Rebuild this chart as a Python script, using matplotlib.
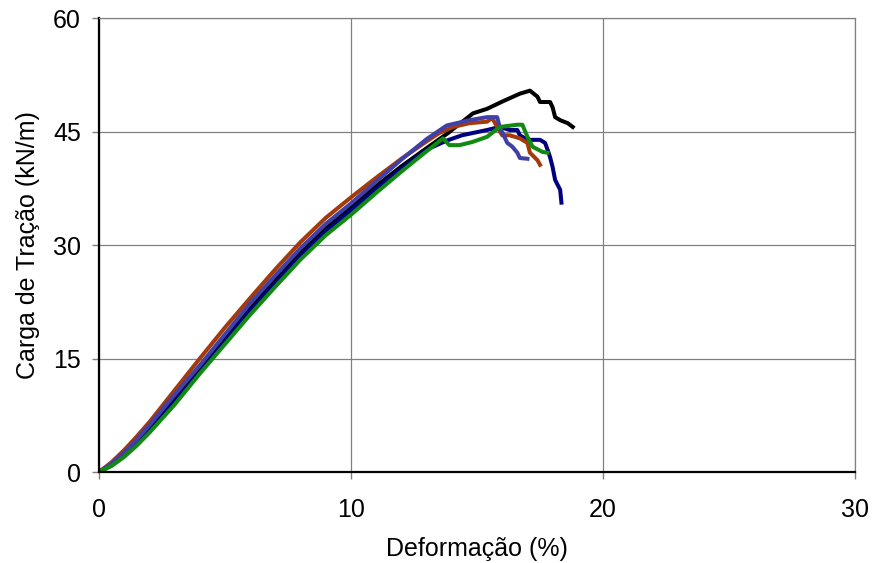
import numpy as np
import matplotlib.pyplot as plt

plt.rcParams['font.family'] = ['Liberation Sans', 'DejaVu Sans']

# curves (deformation %, load kN/m)
x_black = [0, 0.5, 1, 1.5, 2, 3, 4, 5, 6, 7, 8, 9, 10, 11, 12, 13, 13.85, 14.84, 15.4,
           16.03, 16.7, 17.1, 17.4, 17.5, 17.9, 18.0, 18.1, 18.3, 18.6, 18.8]
y_black = [0, 1.0, 2.4, 4.0, 5.8, 9.6, 13.6, 17.7, 21.6, 25.4, 29.0, 32.2, 35.0, 37.8, 40.4,
           42.8, 44.8, 47.4, 48.0, 49.0, 50.0, 50.4, 49.6, 48.9, 48.9, 48.2, 46.9, 46.5, 46.1, 45.6]

x_navy = [0, 0.5, 1, 1.5, 2, 3, 4, 5, 6, 7, 8, 9, 10, 11, 12, 13, 13.8, 14.4, 15.4, 15.9,
          16.3, 16.6, 16.7, 17.0, 17.5, 17.7, 17.8, 17.9, 18.0, 18.1, 18.3, 18.35]
y_navy = [0, 0.9, 2.2, 3.8, 5.6, 9.3, 13.2, 17.3, 21.3, 25.0, 28.6, 31.8, 34.6, 37.4, 40.1,
          42.6, 43.8, 44.5, 45.2, 45.6, 45.2, 45.2, 44.5, 43.9, 43.9, 43.5, 42.6, 41.6, 40.3,
          38.6, 37.3, 35.6]

x_brown = [0, 0.5, 1, 1.5, 2, 3, 4, 5, 6, 7, 8, 9, 10, 11, 12, 13, 13.5, 14.05, 14.7,
           15.4, 15.6, 15.8, 16.0, 16.3, 16.7, 17.0, 17.1, 17.4, 17.5]
y_brown = [0, 1.3, 2.9, 4.7, 6.6, 10.8, 15.0, 19.1, 23.0, 26.8, 30.4, 33.6, 36.3, 38.9, 41.4,
           43.7, 44.8, 45.6, 46.1, 46.3, 46.8, 45.6, 44.5, 44.5, 44.1, 43.5, 42.2, 41.2, 40.6]

x_blue = [0, 0.5, 1, 1.5, 2, 3, 4, 5, 6, 7, 8, 9, 10, 11, 12, 13, 13.8, 14.7, 15.4, 15.8,
          15.9, 16.2, 16.4, 16.6, 16.7, 17.0]
y_blue = [0, 1.1, 2.6, 4.3, 6.2, 10.2, 14.1, 18.2, 22.3, 26.0, 29.6, 32.8, 35.5, 38.4, 41.3,
          44.0, 45.8, 46.5, 46.9, 46.9, 45.6, 43.5, 43.0, 42.2, 41.5, 41.4]

x_green = [0, 0.5, 1, 1.5, 2, 3, 4, 5, 6, 7, 8, 9, 10, 11, 12, 12.7, 13.65, 13.9, 14.3,
           14.8, 15.4, 15.9, 16.6, 16.8, 17.0, 17.2, 17.6, 17.8]
y_green = [0, 0.8, 2.0, 3.5, 5.2, 8.9, 13.0, 16.9, 20.8, 24.5, 28.1, 31.3, 34.0, 36.9, 39.7,
           41.6, 44.1, 43.2, 43.2, 43.6, 44.3, 45.6, 45.9, 45.9, 44.3, 43.0, 42.3, 42.2]

x_ticks = [0, 10, 20, 30]
y_ticks = [0, 15, 30, 45, 60]

fig = plt.figure(figsize=(8.73, 5.63), dpi=100)
ax = fig.add_axes([0.1134, 0.1616, 0.8660, 0.8064])

lw = 2.9
ax.plot(x_black, y_black, color='black', lw=lw)
ax.plot(x_navy, y_navy, color='#000080', lw=lw)
ax.plot(x_brown, y_brown, color='#A33A0C', lw=lw)
ax.plot(x_blue, y_blue, color='#4040A8', lw=lw)
ax.plot(x_green, y_green, color='#108A10', lw=lw)

ax.set_xlim(0, 30)
ax.set_ylim(0, 60)
ax.set_xticks(x_ticks)
ax.set_yticks(y_ticks)
ax.grid(True, color='#808080', lw=0.9)
ax.set_axisbelow(True)
for s in ['top', 'right']:
    ax.spines[s].set_color('#808080')
    ax.spines[s].set_linewidth(0.9)
for s in ['left', 'bottom']:
    ax.spines[s].set_color('black')
    ax.spines[s].set_linewidth(1.6)
ax.tick_params(direction='out', length=5, width=1, color='#808080', labelsize=18)
ax.tick_params(axis='y', pad=8)
ax.tick_params(axis='x', pad=14)

ax.set_xlabel('Deformação (%)', fontsize=18)
ax.set_ylabel('Carga de Tração (kN/m)', fontsize=18)
ax.xaxis.set_label_coords(0.5, -0.143)
ax.yaxis.set_label_coords(-0.078, 0.5)

fig.savefig('out.png', dpi=100)
